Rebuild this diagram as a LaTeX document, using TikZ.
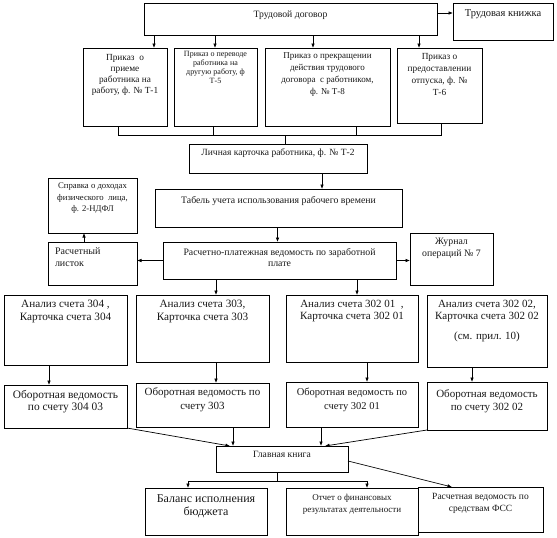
\documentclass[tikz,border=0pt]{standalone}
\usepackage{fontspec}
\setmainfont{Liberation Serif}
\usetikzlibrary{arrows.meta,fit}
\newcommand{\myfs}[2]{\fontsize{#1}{#2}\selectfont}
\tikzset{
  box/.style={draw=black, line width=0.7pt, inner sep=0pt, outer sep=0pt},
  lb/.style={anchor=north, align=center, inner sep=0pt, outer sep=0pt, text=black!90},
  ln/.style={draw=black, line width=0.7pt},
  arr/.style={ln, -{Latex[length=4.5pt,width=3.6pt]}}
}
\begin{document}
\begin{tikzpicture}[x=1pt,y=-1pt]
\useasboundingbox[fill=white] (0,0) rectangle (557,538);

% top
\node[box, fit={(144,3) (437,35)}, label={[lb,yshift=-8pt,font=\myfs{9.7}{11}]north:{Трудовой договор}}] (td) {};
\node[box, fit={(453,3) (553,40)}, label={[lb,yshift=-7pt,font=\myfs{10.5}{12}]north:{Трудовая книжка}}] (tk) {};

% orders
\node[box, fit={(83,48) (167,126)}, label={[lb,yshift=-6pt,font=\myfs{9.3}{11}]north:{Приказ~~о\\приеме\\работника на\\работу, ф. № Т-1}}] (p1) {};
\node[box, fit={(174,48) (257,126)}, label={[lb,yshift=-3.5pt,font=\myfs{8}{9}]north:{Приказ о переводе\\работника на\\другую работу, ф\\Т-5}}] (p5) {};
\node[box, fit={(265,48) (390,126)}, label={[lb,yshift=-5pt,font=\myfs{9}{12}]north:{Приказ о прекращении\\действия трудового\\договора~ с работником,\\ф. № Т-8}}] (p8) {};
\node[box, fit={(397,48) (482,123)}, label={[lb,yshift=-5pt,font=\myfs{9.3}{12}]north:{Приказ о\\предоставлении\\отпуска, ф. №\\Т-6}}] (p6) {};

% middle
\node[box, fit={(189,144) (367,173)}, label={[lb,yshift=-5pt,font=\myfs{9.5}{11}]north:{Личная карточка работника, ф. № Т-2}}] (lk) {};
\node[box, fit={(155,189) (402,227)}, label={[lb,yshift=-7pt,font=\myfs{9.8}{11}]north:{Табель учета использования рабочего времени}}] (tab) {};
\node[box, fit={(48,178) (137,233)}, label={[lb,yshift=-5pt,font=\myfs{8.7}{11.5}]north:{Справка о доходах\\физического~ лица,\\ф. 2-НДФЛ}}] (spr) {};
\node[box, fit={(48,242) (137,285)}, label={[lb,anchor=north west,align=left,xshift=7pt,yshift=-5.5pt,font=\myfs{10}{12}]north west:{Расчетный\\листок}}] (rl) {};
\node[box, fit={(163,242) (396,279)}, label={[lb,yshift=-6.5pt,font=\myfs{9.8}{11}]north:{Расчетно-платежная ведомость по заработной\\плате}}] (rpv) {};
\node[box, fit={(410,233) (493,285)}, label={[lb,yshift=-5.5pt,font=\myfs{9.8}{12}]north:{Журнал\\операций № 7}}] (zh) {};

% analysis
\node[box, fit={(4,295) (127,365)}, label={[lb,yshift=-5pt,font=\myfs{11.2}{13}]north:{Анализ счета 304 ,\\Карточка счета 304}}] (a304) {};
\node[box, fit={(136,295) (269,362)}, label={[lb,yshift=-5pt,font=\myfs{11.2}{13}]north:{Анализ счета 303,\\Карточка счета 303}}] (a303) {};
\node[box, fit={(286,295) (418,362)}, label={[lb,yshift=-5pt,font=\myfs{11}{12.5}]north:{Анализ счета 302 01~ ,\\Карточка счета 302 01}}] (a30201) {};
\node[box, fit={(427,295) (547,367)}, label={[lb,yshift=-5pt,font=\myfs{11}{12.5}]north:{Анализ счета 302 02,\\Карточка счета 302 02\\[7pt](см. прил. 10)}}] (a30202) {};

% turnover
\node[box, fit={(4,385) (127,428)}, label={[lb,yshift=-5pt,font=\myfs{11.4}{12.5}]north:{Оборотная ведомость\\по счету 304 03}}] (o304) {};
\node[box, fit={(136,383) (269,427)}, label={[lb,yshift=-5pt,font=\myfs{11}{13.5}]north:{Оборотная ведомость по\\счету 303}}] (o303) {};
\node[box, fit={(286,382) (418,427)}, label={[lb,yshift=-6pt,font=\myfs{10.5}{13.5}]north:{Оборотная ведомость по\\счету 302 01}}] (o30201) {};
\node[box, fit={(427,382) (547,430)}, label={[lb,yshift=-8pt,font=\myfs{11}{12.5}]north:{Оборотная ведомость\\по счету 302 02}}] (o30202) {};

% ledger and reports
\node[box, fit={(216,446) (348,472)}, label={[lb,yshift=-5.5pt,font=\myfs{9.6}{11}]north:{Главная книга}}] (gk) {};
\node[box, fit={(145,488) (267,535)}, label={[lb,yshift=-7pt,font=\myfs{12}{12.5}]north:{Баланс исполнения\\бюджета}}] (bal) {};
\node[box, fit={(286,488) (418,535)}, label={[lb,yshift=-6.5pt,font=\myfs{9}{12}]north:{Отчет о финансовых\\результатах деятельности}}] (otch) {};
\node[box, fit={(418,487) (543,532)}, label={[lb,yshift=-6pt,font=\myfs{9.5}{12.5}]north:{Расчетная ведомость по\\средствам ФСС}}] (fss) {};

% connectors: top
\draw[arr] ([yshift=6pt]td.east) -- ([yshift=6pt]td.east -| tk.west);
\draw[arr] ([xshift=29pt]p1.north |- td.south) -- ([xshift=29pt]p1.north);
\draw[arr] ([xshift=-0.5pt]p5.north |- td.south) -- ([xshift=-0.5pt]p5.north);
\draw[arr] ([xshift=-14.5pt]p8.north |- td.south) -- ([xshift=-14.5pt]p8.north);
\draw[arr] ([xshift=-20.5pt]p6.north |- td.south) -- ([xshift=-20.5pt]p6.north);

% bus to personal card
\coordinate (busL) at (118,135);
\coordinate (busR) at (441,135);
\draw[ln] ([xshift=-7pt]p1.south) -- (busL) -- (busR) -- ([xshift=1.5pt]p6.south);
\draw[ln] ([xshift=-2.5pt]p5.south) -- ([xshift=-2.5pt]p5.south |- busL);
\draw[ln] ([xshift=28.5pt]p8.south) -- ([xshift=28.5pt]p8.south |- busL);
\draw[ln] ([xshift=7pt]lk.north |- busL) -- ([xshift=7pt]lk.north);

% middle
\draw[arr] ([xshift=44pt]lk.south) -- ([xshift=44pt]lk.south |- tab.north);
\draw[arr] ([xshift=-1pt]tab.south) -- ([xshift=-1pt]tab.south |- rpv.north);
\draw[arr] (rpv.west) -- (rpv.west -| rl.east);
\draw[arr] (rpv.east) -- (rpv.east -| zh.west);
\draw[arr] ([xshift=-8.5pt]rl.north) -- ([xshift=-8.5pt]rl.north |- spr.south);
\draw[arr] ([xshift=13.5pt]a303.north |- rpv.south) -- ([xshift=13.5pt]a303.north);
\draw[arr] ([xshift=5pt]a30201.north |- rpv.south) -- ([xshift=5pt]a30201.north);

% analysis -> turnover
\draw[arr] ([xshift=-16.5pt]a304.south) -- ([xshift=-16.5pt]a304.south |- o304.north);
\draw[arr] ([xshift=13.5pt]a303.south) -- ([xshift=13.5pt]a303.south |- o303.north);
\draw[arr] ([xshift=15pt]a30201.south) -- ([xshift=15pt]a30201.south |- o30201.north);
\draw[arr] ([xshift=-15pt]a30202.south) -- ([xshift=-15pt]a30202.south |- o30202.north);

% turnover -> ledger
\draw[arr] (o304.south east) -- ([xshift=-52pt]gk.north);
\draw[arr] ([xshift=30.5pt]o303.south) -- ([xshift=30.5pt]o303.south |- gk.north);
\draw[arr] ([xshift=-31pt]o30201.south) -- ([xshift=-31pt]o30201.south |- gk.north);
\draw[arr] (o30202.south west) -- ([xshift=43pt]gk.north);

% ledger -> reports
\coordinate (gb) at (277,481);
\draw[ln] ([xshift=-5pt]gk.south) -- (gb);
\draw[arr] (gb) -| ([xshift=-18pt]bal.north);
\draw[arr] (gb) -| ([xshift=15pt]otch.north);
\draw[arr] ([yshift=-2pt]gk.east) -- ([xshift=-28.5pt]fss.north);
\end{tikzpicture}
\end{document}
